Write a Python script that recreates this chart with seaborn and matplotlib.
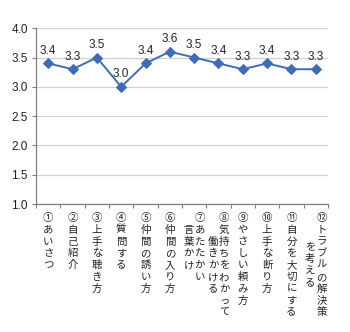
import matplotlib
matplotlib.use("Agg")
import matplotlib.pyplot as plt
import seaborn as sns
import pandas as pd

# Category labels: each entry is a list of vertical columns, read right to left
labels = [
    ["①あいさつ"],
    ["②自己紹介"],
    ["③上手な聴き方"],
    ["④質問する"],
    ["⑤仲間の誘い方"],
    ["⑥仲間の入り方"],
    ["⑦あたたかい", "言葉かけ"],
    ["⑧気持ちをわかって", "働きかける"],
    ["⑨やさしい頼み方"],
    ["⑩上手な断り方"],
    ["⑪自分を大切にする"],
    ["⑫トラブルの解決策", "を考える"],
]
scores = [3.4, 3.3, 3.5, 3.0, 3.4, 3.6, 3.5, 3.4, 3.3, 3.4, 3.3, 3.3]
y_ticks = [1.0, 1.5, 2.0, 2.5, 3.0, 3.5, 4.0]

df = pd.DataFrame({"idx": range(len(scores)), "score": scores})

sns.set_style("white")
plt.rcParams["font.family"] = ["Liberation Sans", "Noto Sans CJK JP", "DejaVu Sans"]

fig = plt.figure(figsize=(3.5, 3.32), dpi=100)
ax = fig.add_axes([0.103, 0.3855, 0.834, 0.5295])

line_color = "#3E6DB5"
sns.lineplot(data=df, x="idx", y="score", ax=ax, color=line_color, linewidth=1.4,
             marker="D", markersize=5, markeredgecolor=line_color,
             markerfacecolor=line_color, legend=False)

ax.set_xlim(-0.5, len(scores) - 0.5)
ax.set_ylim(1.0, 4.0)
ax.set_yticks(y_ticks)
ax.set_yticklabels([f"{v:.1f}" for v in y_ticks], fontsize=8.5, color="#222222")
ax.set_xticks([i - 0.5 for i in range(len(scores) + 1)])
ax.set_xticklabels([])
ax.set_xlabel("")
ax.set_ylabel("")

ax.yaxis.grid(True, color="#D0D0D0", linewidth=0.9)
ax.set_axisbelow(True)
for side in ("top", "right"):
    ax.spines[side].set_visible(False)
for side in ("left", "bottom"):
    ax.spines[side].set_color("#808080")
    ax.spines[side].set_linewidth(0.9)
ax.tick_params(axis="both", direction="out", length=3, width=0.8, color="#808080",
               left=True, bottom=True, pad=3)

# Value labels above each marker
for i, v in enumerate(scores):
    ax.annotate(f"{v:.1f}", xy=(i, v), xytext=(0, 9), textcoords="offset points",
                ha="center", va="center", fontsize=8.5, color="#222222")

# Vertical (tategaki) category labels below the axis
char_step = 8.5   # points between stacked characters
col_step = 8.0    # points between columns
top_off = 10.0    # points from axis to first character centre
xtrans = ax.get_xaxis_transform()
for i, cols in enumerate(labels):
    n = len(cols)
    maxlen = max(len(c) for c in cols)
    for j, col in enumerate(cols):
        dx = ((n - 1) / 2 - j) * col_step
        start = (maxlen - len(col)) / 2
        for k, ch in enumerate(col):
            dy = -(top_off + (start + k) * char_step)
            ax.annotate(ch, xy=(i, 0), xycoords=xtrans, xytext=(dx, dy),
                        textcoords="offset points", ha="center", va="center",
                        fontsize=7.5, color="#222222",
                        family=["Noto Sans CJK JP", "DejaVu Sans"],
                        annotation_clip=False)

fig.savefig("out.png", dpi=100)
